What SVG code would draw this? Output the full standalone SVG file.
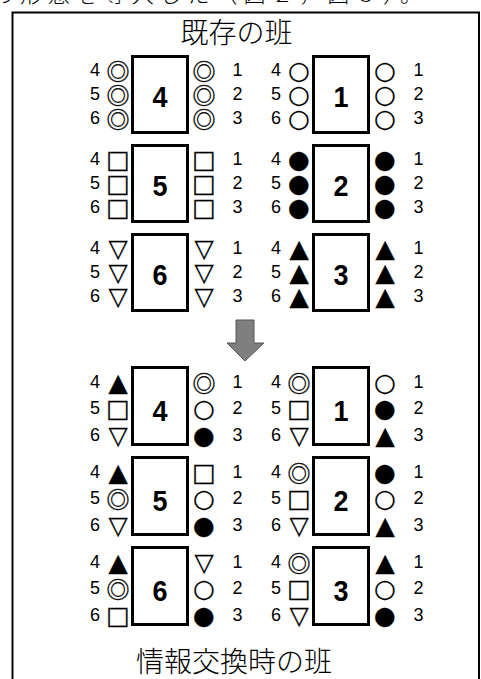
<svg xmlns="http://www.w3.org/2000/svg" width="481" height="679" viewBox="0 0 481 679">
<style>
.frame{fill:none;stroke:#000;stroke-width:2}
.box{fill:#fff;stroke:#000;stroke-width:3}
.n{font-family:"Liberation Sans",Arial,sans-serif;font-size:18px;text-anchor:middle;dominant-baseline:central;fill:#000}
.s{font-family:"DejaVu Sans",sans-serif;font-size:25px;text-anchor:middle;dominant-baseline:central;fill:#000;stroke:#000;stroke-width:0.25}
.dc{font-family:"Noto Sans CJK JP","DejaVu Sans",sans-serif;font-size:23px;stroke-width:0.35}
.big{font-family:"Liberation Sans",Arial,sans-serif;font-size:30px;font-weight:bold;text-anchor:middle;dominant-baseline:central;fill:#000}
.cap{font-family:"Noto Sans CJK JP",sans-serif;font-weight:300;font-size:28px;text-anchor:middle;fill:#000}
.cut{font-family:"Noto Sans CJK JP",sans-serif;font-weight:300;font-size:22px;fill:#000}
</style>
<defs>
<g id="rowsT">
<text class="n" x="-36" y="15">4</text><text class="n" x="-36" y="39">5</text><text class="n" x="-36" y="63">6</text>
<text class="n" x="106.5" y="15">1</text><text class="n" x="106.5" y="39">2</text><text class="n" x="106.5" y="63">3</text>
</g>
<g id="rowsB">
<text class="n" x="-36" y="15.5">4</text><text class="n" x="-36" y="42">5</text><text class="n" x="-36" y="68.5">6</text>
<text class="n" x="106.5" y="15.5">1</text><text class="n" x="106.5" y="42">2</text><text class="n" x="106.5" y="68.5">3</text>
</g>
</defs>
<rect width="481" height="679" fill="#fff"/>
<text class="cut" x="-8" y="1.5" textLength="430" lengthAdjust="spacing">の形態を導入した（図２，図３）。</text>
<path class="frame" d="M12.5,700 V12.5 H479 V700"/>
<text class="cap" x="236.5" y="43">既存の班</text>
<text class="cap" x="234" y="672">情報交換時の班</text>

<g id="connectors">
<polygon points="236,320 254,320 254,343 264,343 245,361 227,343 236,343" fill="#7f7f7f" stroke="#555" stroke-width="1"/>
</g>

<!-- existing groups -->
<g id="old-4" transform="translate(131,55)">
<rect class="box" x="1.5" y="1.5" width="55" height="76"/>
<text class="big" x="29" y="41" textLength="15" lengthAdjust="spacingAndGlyphs">4</text>
<use href="#rowsT"/>
<text class="s"><tspan class="dc" x="-13" y="15">◎</tspan><tspan class="dc" x="-13" y="39">◎</tspan><tspan class="dc" x="-13" y="63">◎</tspan></text>
<text class="s"><tspan class="dc" x="73" y="15">◎</tspan><tspan class="dc" x="73" y="39">◎</tspan><tspan class="dc" x="73" y="63">◎</tspan></text>
</g>
<g id="old-1" transform="translate(312,55)">
<rect class="box" x="1.5" y="1.5" width="55" height="76"/>
<text class="big" x="29" y="41" textLength="15" lengthAdjust="spacingAndGlyphs">1</text>
<use href="#rowsT"/>
<text class="s"><tspan x="-13" y="15">○</tspan><tspan x="-13" y="39">○</tspan><tspan x="-13" y="63">○</tspan></text>
<text class="s"><tspan x="73" y="15">○</tspan><tspan x="73" y="39">○</tspan><tspan x="73" y="63">○</tspan></text>
</g>
<g id="old-5" transform="translate(131,144)">
<rect class="box" x="1.5" y="1.5" width="55" height="76"/>
<text class="big" x="29" y="41" textLength="15" lengthAdjust="spacingAndGlyphs">5</text>
<use href="#rowsT"/>
<text class="s"><tspan x="-13" y="15">□</tspan><tspan x="-13" y="39">□</tspan><tspan x="-13" y="63">□</tspan></text>
<text class="s"><tspan x="73" y="15">□</tspan><tspan x="73" y="39">□</tspan><tspan x="73" y="63">□</tspan></text>
</g>
<g id="old-2" transform="translate(312,144)">
<rect class="box" x="1.5" y="1.5" width="55" height="76"/>
<text class="big" x="29" y="41" textLength="15" lengthAdjust="spacingAndGlyphs">2</text>
<use href="#rowsT"/>
<text class="s"><tspan x="-13" y="15">●</tspan><tspan x="-13" y="39">●</tspan><tspan x="-13" y="63">●</tspan></text>
<text class="s"><tspan x="73" y="15">●</tspan><tspan x="73" y="39">●</tspan><tspan x="73" y="63">●</tspan></text>
</g>
<g id="old-6" transform="translate(131,233)">
<rect class="box" x="1.5" y="1.5" width="55" height="76"/>
<text class="big" x="29" y="41" textLength="15" lengthAdjust="spacingAndGlyphs">6</text>
<use href="#rowsT"/>
<text class="s"><tspan x="-13" y="15">▽</tspan><tspan x="-13" y="39">▽</tspan><tspan x="-13" y="63">▽</tspan></text>
<text class="s"><tspan x="73" y="15">▽</tspan><tspan x="73" y="39">▽</tspan><tspan x="73" y="63">▽</tspan></text>
</g>
<g id="old-3" transform="translate(312,233)">
<rect class="box" x="1.5" y="1.5" width="55" height="76"/>
<text class="big" x="29" y="41" textLength="15" lengthAdjust="spacingAndGlyphs">3</text>
<use href="#rowsT"/>
<text class="s"><tspan x="-13" y="15">▲</tspan><tspan x="-13" y="39">▲</tspan><tspan x="-13" y="63">▲</tspan></text>
<text class="s"><tspan x="73" y="15">▲</tspan><tspan x="73" y="39">▲</tspan><tspan x="73" y="63">▲</tspan></text>
</g>

<!-- exchange groups -->
<g id="new-4" transform="translate(131,366)">
<rect class="box" x="1.5" y="1.5" width="55" height="77"/>
<text class="big" x="29" y="44" textLength="15" lengthAdjust="spacingAndGlyphs">4</text>
<use href="#rowsB"/>
<text class="s"><tspan x="-13" y="15.5">▲</tspan><tspan x="-13" y="42">□</tspan><tspan x="-13" y="68.5">▽</tspan></text>
<text class="s"><tspan class="dc" x="73" y="15.5">◎</tspan><tspan x="73" y="42">○</tspan><tspan x="73" y="68.5">●</tspan></text>
</g>
<g id="new-1" transform="translate(312,366)">
<rect class="box" x="1.5" y="1.5" width="55" height="77"/>
<text class="big" x="29" y="44" textLength="15" lengthAdjust="spacingAndGlyphs">1</text>
<use href="#rowsB"/>
<text class="s"><tspan class="dc" x="-13" y="15.5">◎</tspan><tspan x="-13" y="42">□</tspan><tspan x="-13" y="68.5">▽</tspan></text>
<text class="s"><tspan x="73" y="15.5">○</tspan><tspan x="73" y="42">●</tspan><tspan x="73" y="68.5">▲</tspan></text>
</g>
<g id="new-5" transform="translate(131,456)">
<rect class="box" x="1.5" y="1.5" width="55" height="77"/>
<text class="big" x="29" y="44" textLength="15" lengthAdjust="spacingAndGlyphs">5</text>
<use href="#rowsB"/>
<text class="s"><tspan x="-13" y="15.5">▲</tspan><tspan class="dc" x="-13" y="42">◎</tspan><tspan x="-13" y="68.5">▽</tspan></text>
<text class="s"><tspan x="73" y="15.5">□</tspan><tspan x="73" y="42">○</tspan><tspan x="73" y="68.5">●</tspan></text>
</g>
<g id="new-2" transform="translate(312,456)">
<rect class="box" x="1.5" y="1.5" width="55" height="77"/>
<text class="big" x="29" y="44" textLength="15" lengthAdjust="spacingAndGlyphs">2</text>
<use href="#rowsB"/>
<text class="s"><tspan class="dc" x="-13" y="15.5">◎</tspan><tspan x="-13" y="42">□</tspan><tspan x="-13" y="68.5">▽</tspan></text>
<text class="s"><tspan x="73" y="15.5">●</tspan><tspan x="73" y="42">○</tspan><tspan x="73" y="68.5">▲</tspan></text>
</g>
<g id="new-6" transform="translate(131,546)">
<rect class="box" x="1.5" y="1.5" width="55" height="77"/>
<text class="big" x="29" y="44" textLength="15" lengthAdjust="spacingAndGlyphs">6</text>
<use href="#rowsB"/>
<text class="s"><tspan x="-13" y="15.5">▲</tspan><tspan class="dc" x="-13" y="42">◎</tspan><tspan x="-13" y="68.5">□</tspan></text>
<text class="s"><tspan x="73" y="15.5">▽</tspan><tspan x="73" y="42">○</tspan><tspan x="73" y="68.5">●</tspan></text>
</g>
<g id="new-3" transform="translate(312,546)">
<rect class="box" x="1.5" y="1.5" width="55" height="77"/>
<text class="big" x="29" y="44" textLength="15" lengthAdjust="spacingAndGlyphs">3</text>
<use href="#rowsB"/>
<text class="s"><tspan class="dc" x="-13" y="15.5">◎</tspan><tspan x="-13" y="42">□</tspan><tspan x="-13" y="68.5">▽</tspan></text>
<text class="s"><tspan x="73" y="15.5">▲</tspan><tspan x="73" y="42">○</tspan><tspan x="73" y="68.5">●</tspan></text>
</g>
</svg>
